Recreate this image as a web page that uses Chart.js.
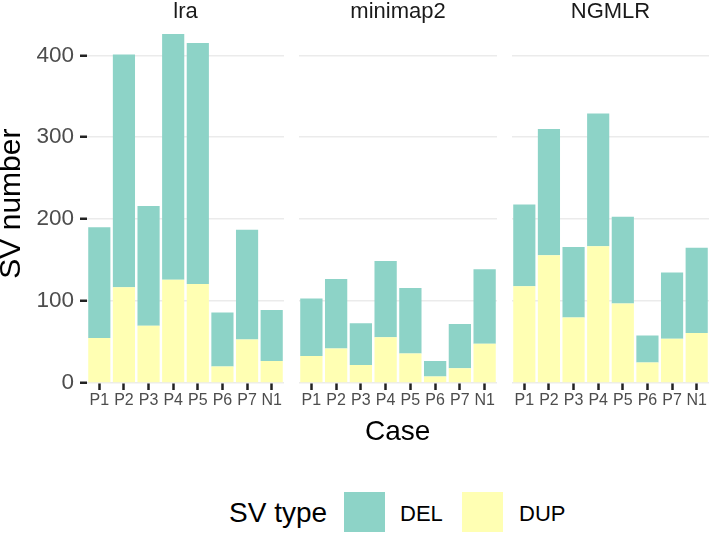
<!DOCTYPE html>
<html>
<head>
<meta charset="utf-8">
<script src="https://cdn.jsdelivr.net/npm/chart.js@4"></script>
<style>
  body { margin: 0; background: #fff; font-family: "Liberation Sans", Arial, sans-serif; }
  #wrap { position: relative; width: 710px; height: 534px; overflow: hidden; }
  canvas { position: absolute; top: 0; }
  .lbl { position: absolute; white-space: nowrap; line-height: 1; }
  .key { position: absolute; width: 41px; height: 40px; }
</style>
</head>
<body>
<div id="wrap">
  <canvas id="c0" width="284" height="420" style="left:0px"></canvas>
  <canvas id="c1" width="198" height="420" style="left:299px"></canvas>
  <canvas id="c2" width="197" height="420" style="left:512px"></canvas>
  <div class="lbl" style="left:365px; top:417px; font-size:28px; color:#000">Case</div>
  <div class="lbl" style="left:229px; top:499px; font-size:28px; color:#000">SV type</div>
  <div class="key" style="left:344px; top:492px; background:#8DD3C7"></div>
  <div class="lbl" style="left:400px; top:503px; font-size:22px; color:#000">DEL</div>
  <div class="key" style="left:462px; top:492px; background:#FFFFB3"></div>
  <div class="lbl" style="left:519px; top:503px; font-size:22px; color:#000">DUP</div>
</div>
<script>
const cases = ["P1", "P2", "P3", "P4", "P5", "P6", "P7", "N1"];
const aligners = ["lra", "minimap2", "NGMLR"];

// DUP is the bottom segment, DEL is stacked on top
const dupLra = [55, 117, 70, 126, 121, 20, 53, 27];
const delLra = [135, 284, 146, 300, 294, 66, 134, 62];
const dupMinimap2 = [33, 42, 22, 56, 36, 8, 18, 48];
const delMinimap2 = [70, 85, 51, 93, 80, 19, 54, 91];
const dupNgmlr = [118, 156, 80, 167, 97, 25, 54, 61];
const delNgmlr = [100, 154, 86, 162, 106, 33, 81, 104];

const yTicks = [0, 100, 200, 300, 400];

const dupSeries = [dupLra, dupMinimap2, dupNgmlr];
const delSeries = [delLra, delMinimap2, delNgmlr];

const FONT = "'Liberation Sans', Arial, sans-serif";

// centre the facet strip title over the panel, not the whole canvas
const stripOverPanel = {
  id: "stripOverPanel",
  afterLayout: (chart) => {
    const t = chart.titleBlock;
    if (!t) return;
    t.left = chart.chartArea.left;
    t.right = chart.chartArea.right;
    t.width = t.right - t.left;
  },
};

const createPanel = (idx) => {
  const first = idx === 0;
  new Chart(document.getElementById("c" + idx), {
    type: "bar",
    data: {
      labels: cases,
      datasets: [
        {
          label: "DUP",
          data: dupSeries[idx],
          backgroundColor: "#FFFFB3",
          borderWidth: 0,
          barPercentage: 0.9,
          categoryPercentage: 1,
        },
        {
          label: "DEL",
          data: delSeries[idx],
          backgroundColor: "#8DD3C7",
          borderWidth: 0,
          barPercentage: 0.9,
          categoryPercentage: 1,
        },
      ],
    },
    plugins: [stripOverPanel],
    options: {
      responsive: false,
      animation: false,
      devicePixelRatio: 1,
      layout: { padding: 0 },
      plugins: {
        legend: { display: false },
        tooltip: { enabled: false },
        title: {
          display: true,
          text: aligners[idx],
          color: "#1a1a1a",
          font: { family: FONT, size: 22, weight: "normal", lineHeight: 1.1 },
          padding: { top: 0, bottom: 0 },
        },
      },
      scales: {
        x: {
          stacked: true,
          afterFit: (scale) => {
            scale.height = 37;
          },
          border: { display: false },
          grid: {
            offset: false,
            drawOnChartArea: false,
            color: "#222222",
            tickColor: "#222222",
            tickLength: 7,
            tickWidth: 2.5,
          },
          ticks: {
            color: "#4d4d4d",
            padding: 1,
            maxRotation: 0,
            autoSkip: false,
            font: { family: FONT, size: 16 },
          },
        },
        y: {
          stacked: true,
          min: 0,
          max: 438,
          afterBuildTicks: (scale) => {
            scale.ticks = yTicks.map((v) => ({ value: v }));
          },
          afterFit: (scale) => {
            scale.width = first ? 87 : 0;
          },
          border: { display: false },
          grid: {
            color: "#ebebeb",
            lineWidth: 1.5,
            drawTicks: first,
            tickColor: "#222222",
            tickLength: 7,
            tickWidth: 2.5,
          },
          ticks: {
            display: first,
            color: "#4d4d4d",
            padding: 6,
            font: { family: FONT, size: 22.5 },
          },
          title: {
            display: first,
            text: "SV number",
            color: "#000000",
            font: { family: FONT, size: 30, lineHeight: 0.8 },
            padding: 0,
          },
        },
      },
    },
  });
};

aligners.forEach((name, i) => createPanel(i));
</script>
</body>
</html>
